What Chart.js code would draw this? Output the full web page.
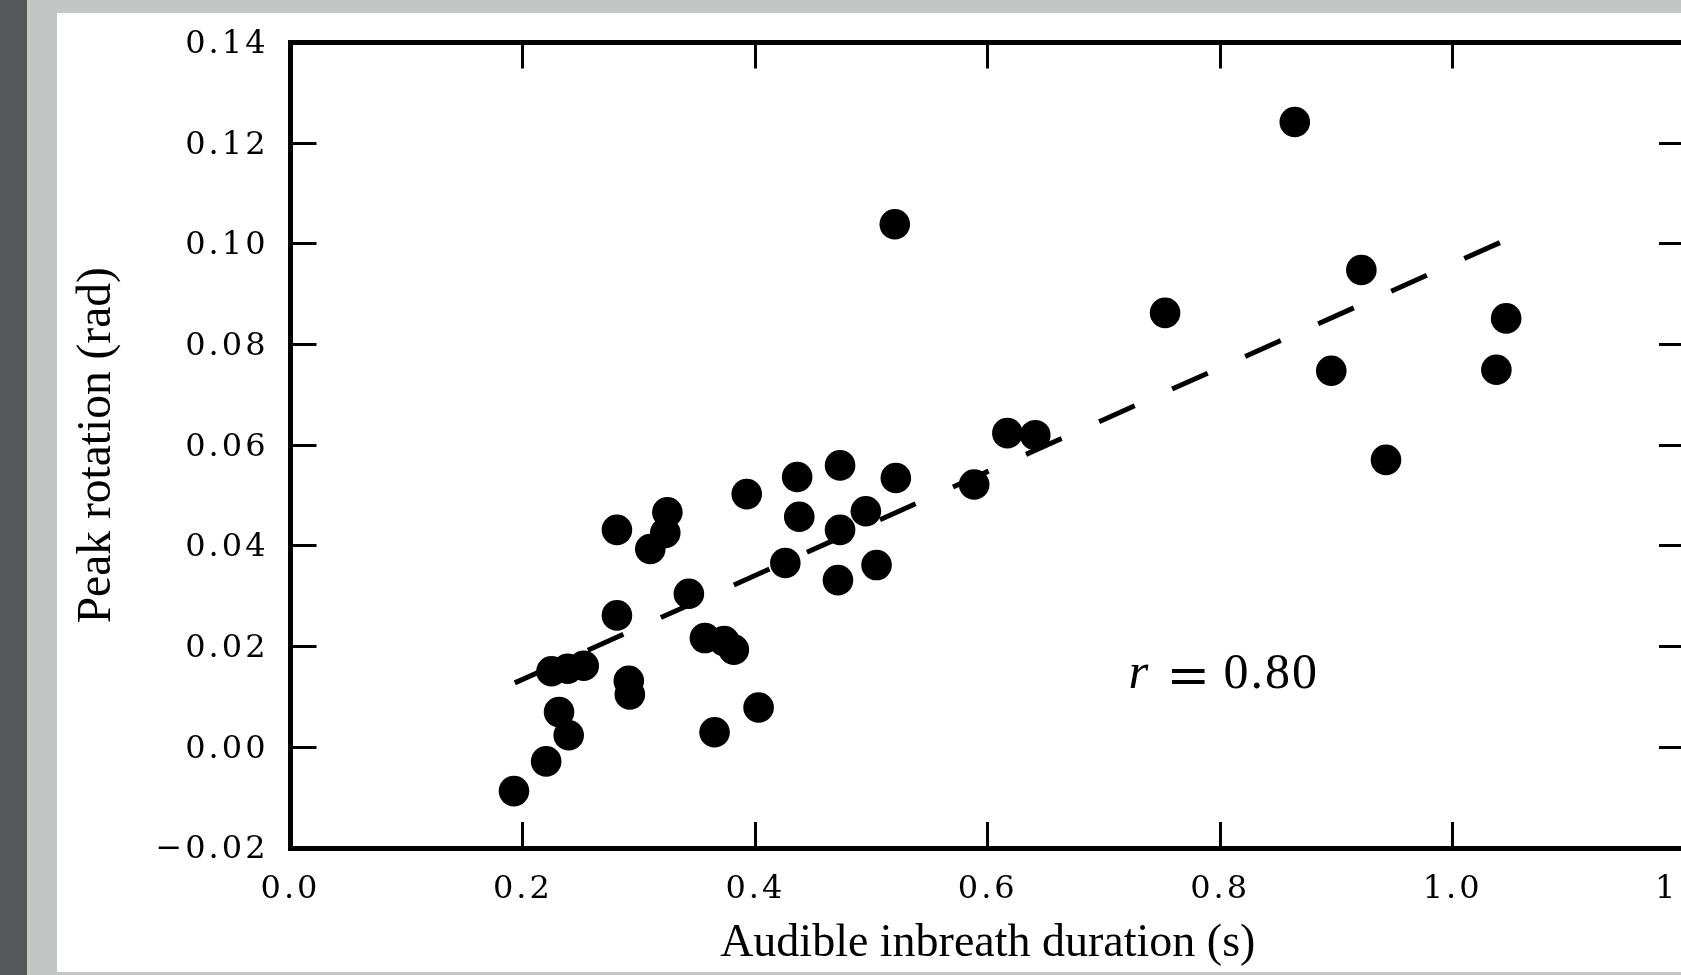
<!DOCTYPE html>
<html><head><meta charset="utf-8">
<script src="https://cdn.jsdelivr.net/npm/chart.js@4.4.1/dist/chart.umd.min.js"></script>
<style>
html,body{margin:0;padding:0;width:1681px;height:975px;overflow:hidden;background:#c4c6c5;}
#dark{position:absolute;left:0;top:0;width:27px;height:975px;background:#54585b;}
#panel{position:absolute;left:57px;top:13px;width:1624px;height:959px;background:#fff;overflow:hidden;}
#c{position:absolute;left:0;top:0;}
</style></head><body>
<div id="dark"></div>
<div id="panel"><canvas id="c" width="1700" height="959"></canvas></div>
<script>
// Data
const breathDuration = [0.8642,0.5200,0.9215,0.7526,1.0461,0.8956,1.0377,0.9427,0.6169,0.6409,
  0.5883,0.4729,0.4360,0.5209,0.3926,0.4378,0.4951,0.4729,0.3243,0.3225,
  0.3096,0.2809,0.4258,0.5043,0.4711,0.3428,0.2809,0.3566,0.3732,0.3815,
  0.2523,0.2385,0.2246,0.2911,0.2920,0.4028,0.2311,0.2394,0.3649,0.2200,0.1923];
const peakRotation = [0.1242,0.1039,0.0948,0.0863,0.0852,0.0748,0.0750,0.0571,0.0624,0.0620,
  0.0522,0.0560,0.0537,0.0535,0.0503,0.0458,0.0469,0.0432,0.0467,0.0426,
  0.0394,0.0432,0.0366,0.0362,0.0332,0.0305,0.0262,0.0217,0.0211,0.0194,
  0.0162,0.0156,0.0151,0.0132,0.0105,0.0079,0.0070,0.0024,0.0030,-0.0028,-0.0087];
const trendX = [0.193, 1.046];
const trendY = [0.0128, 0.1008];
const xTickValues = [0, 0.2, 0.4, 0.6, 0.8, 1.0, 1.2];
const xTickLabels = ['0.0','0.2','0.4','0.6','0.8','1.0','1.2'];
const yTickValues = [-0.02, 0, 0.02, 0.04, 0.06, 0.08, 0.10, 0.12, 0.14];
const yTickLabels = ['\u22120.02','0.00','0.02','0.04','0.06','0.08','0.10','0.12','0.14'];
const xTitle = 'Audible inbreath duration (s)';
const yTitle = 'Peak rotation (rad)';
const rLabel = ['r', '=', '0.80'];
const rAnchor = [0.722, 0.0118];

const tickFont = {family: '"DejaVu Serif"', size: 32};
const fixTicks = values => s => { s.ticks = values.map(v => ({value: v})); };
const fixSize = (prop, val) => s => {
  s[prop] = val;
  s.paddingTop = 0; s.paddingBottom = 0; s.paddingLeft = 0; s.paddingRight = 0;
};
const gridOpts = {drawOnChartArea: false, drawTicks: true, tickLength: -26, lineWidth: 3, tickWidth: 3, color: '#000', tickColor: '#000'};
const borderOpts = {display: true, width: 5, color: '#000'};

const spacingPlugin = {
  id: 'spacing',
  beforeDraw(chart) {
    ['x', 'y'].forEach(id => {
      const s = chart.scales[id];
      if (s && !s._lsPatched) {
        const orig = s.drawLabels;
        s.drawLabels = function (area) {
          const c = this.ctx; c.save(); c.letterSpacing = '3px'; orig.call(this, area); c.restore();
        };
        s._lsPatched = true;
      }
    });
  }
};

const annPlugin = {
  id: 'ann',
  afterDatasetsDraw(chart) {
    const c = chart.ctx;
    const x0 = chart.scales.x.getPixelForValue(rAnchor[0]);
    const y0 = chart.scales.y.getPixelForValue(rAnchor[1]);
    c.save();
    c.fillStyle = '#000'; c.textBaseline = 'alphabetic'; c.textAlign = 'left';
    c.font = 'italic 51px "Liberation Serif"';
    c.fillText(rLabel[0], x0 - 1, y0);
    c.font = '52px "DejaVu Serif"';
    c.fillText(rLabel[1], x0 + 37, y0 + 5);
    c.font = '50px "Liberation Serif"';
    c.letterSpacing = '2px';
    c.fillText(rLabel[2], x0 + 94, y0);
    c.restore();
  }
};

new Chart(document.getElementById('c'), {
  type: 'scatter',
  data: {
    datasets: [
      {
        data: breathDuration.map((x, i) => ({x: x, y: peakRotation[i]})),
        backgroundColor: '#000', borderWidth: 0, pointRadius: 15.3, pointHoverRadius: 15.3
      },
      {
        data: trendX.map((x, i) => ({x: x, y: trendY[i]})),
        showLine: true, pointRadius: 0, borderColor: '#000', borderWidth: 5,
        borderDash: [39, 41], borderCapStyle: 'butt', fill: false
      }
    ]
  },
  options: {
    responsive: false, animation: false, devicePixelRatio: 1, events: [],
    layout: {padding: 0},
    plugins: {legend: {display: false}, tooltip: {enabled: false}},
    scales: {
      x: {
        type: 'linear', position: 'bottom', min: 0, max: 1.2,
        afterBuildTicks: fixTicks(xTickValues), afterFit: fixSize('height', 124),
        grid: gridOpts, border: borderOpts,
        ticks: {autoSkip: false, maxRotation: 0, minRotation: 0, padding: 48, color: '#000', font: tickFont,
          callback: (v, i) => xTickLabels[i]},
        title: {display: true, text: xTitle, color: '#000', font: {family: '"Liberation Serif"', size: 46, lineHeight: 1}, padding: {top: 0, bottom: 5}}
      },
      y: {
        type: 'linear', position: 'left', min: -0.02, max: 0.14,
        afterBuildTicks: fixTicks(yTickValues), afterFit: fixSize('width', 233.5),
        grid: gridOpts, border: borderOpts,
        ticks: {autoSkip: false, padding: 48, labelOffset: 2, color: '#000', font: tickFont,
          callback: (v, i) => yTickLabels[i]},
        title: {display: true, text: yTitle, color: '#000', font: {family: '"Liberation Serif"', size: 47.5, lineHeight: 1}, padding: {top: 17, bottom: 0}}
      },
      x2: {
        type: 'linear', position: 'top', min: 0, max: 1.2, display: true,
        afterBuildTicks: fixTicks(xTickValues), afterFit: fixSize('height', 29.5),
        grid: gridOpts, border: borderOpts, ticks: {display: false}
      },
      y2: {
        type: 'linear', position: 'right', min: -0.02, max: 0.14, display: true,
        afterBuildTicks: fixTicks(yTickValues), afterFit: fixSize('width', 72),
        grid: gridOpts, border: borderOpts, ticks: {display: false}
      }
    }
  },
  plugins: [spacingPlugin, annPlugin]
});
</script>
</body></html>
